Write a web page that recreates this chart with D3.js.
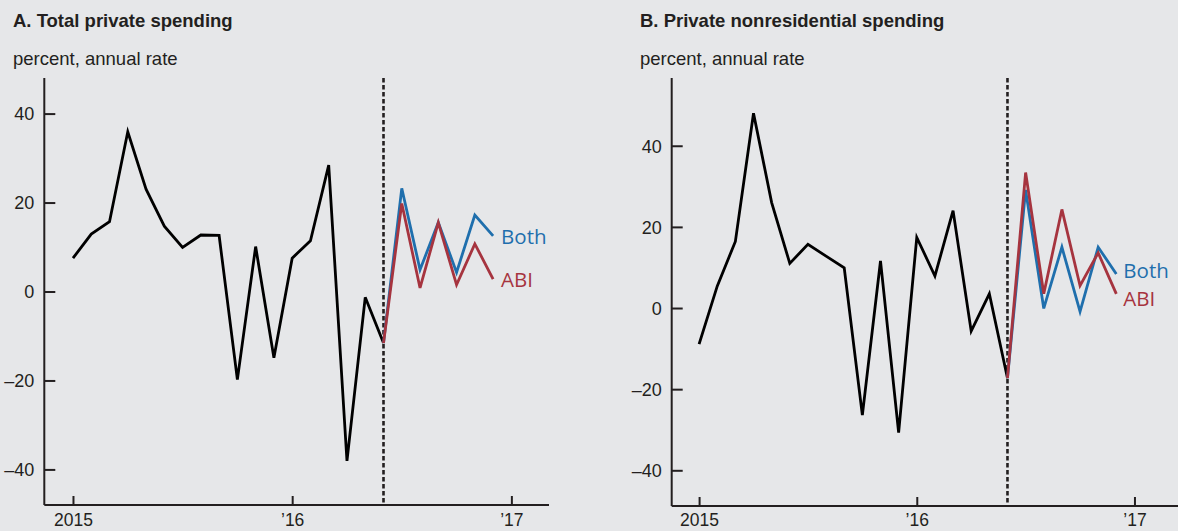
<!DOCTYPE html>
<html>
<head>
<meta charset="utf-8">
<script src="https://cdn.jsdelivr.net/npm/d3@7"></script>
<style>
  html, body { margin: 0; padding: 0; background: #e6e7e9; }
  svg { display: block; }
  text { font-family: "Liberation Sans", Arial, sans-serif; fill: #231f20; }
</style>
</head>
<body>
<svg id="chart" width="1178" height="531"></svg>
<script>
// ---- data (month index 0 = Jan 2015) ----
const histMonths = d3.range(0, 18);          // Jan 2015 .. Jun 2016
const fcstMonths = d3.range(17, 24);         // Jun 2016 .. Dec 2016
const xTickValues = [0, 12, 24];
const xTickLabels = ["2015", "\u201916", "\u201917"];

const totalHist = [7.5, 12.9, 15.7, 35.9, 23.0, 14.7, 9.9, 12.7, 12.6, -19.8, 10.1, -14.9, 7.5, 11.4, 28.4, -38.1, -1.3, -11.6];
const totalBoth = [-11.6, 23.2, 4.9, 15.5, 4.3, 17.2, 12.5];
const totalABI  = [-11.6, 19.8, 0.8, 15.5, 1.5, 10.7, 2.8];
const totalYTicks = [-40, -20, 0, 20, 40];

const nonresHist = [-8.9, 5.4, 16.4, 48.0, 26.0, 11.0, 15.7, 12.8, 9.9, -26.4, 11.6, -30.7, 17.4, 7.9, 24.0, -5.7, 3.5, -17.3];
const nonresBoth = [-17.3, 29.1, -0.1, 15.0, -0.9, 15.0, 8.4];
const nonresABI  = [-17.3, 33.4, 3.5, 24.3, 5.5, 13.6, 3.5];
const nonresYTicks = [-40, -20, 0, 20, 40];

const cutMonth = 17;
const seriesNames = ["Both", "ABI"];
const colors = { hist: "#000000", Both: "#1f6fad", ABI: "#a6343f", axis: "#231f20" };

const svg = d3.select("#chart");

function panel(cfg) {
  const g = svg.append("g");
  const x = d3.scaleLinear().domain(cfg.xDomain).range([cfg.left, cfg.right]);
  const y = d3.scaleLinear().domain(cfg.yDomain).range([cfg.bottom, cfg.top]);

  // titles
  g.append("text").attr("x", cfg.titleX).attr("y", 27)
    .style("font-size", "18.5px").style("font-weight", "bold").text(cfg.title);
  g.append("text").attr("x", cfg.titleX).attr("y", 65)
    .style("font-size", "18.5px").text("percent, annual rate");

  // y axis
  const yAxis = d3.axisRight(y).tickValues(cfg.yTicks).tickSize(11)
    .tickFormat(d => d < 0 ? "\u2013" + Math.abs(d) : d);
  const ya = g.append("g").attr("transform", `translate(${cfg.left},0)`).call(yAxis);
  ya.select(".domain").attr("stroke", colors.axis).attr("stroke-width", 2)
    .attr("d", `M0,${cfg.top}V${cfg.bottom}`);
  ya.selectAll(".tick line").attr("stroke", colors.axis).attr("stroke-width", 2);
  ya.selectAll(".tick text").attr("x", -10).attr("text-anchor", "end")
    .attr("dy", "0.35em").style("font-size", "18px").attr("fill", colors.axis);

  // x axis
  const xAxis = d3.axisTop(x).tickValues(xTickValues).tickSize(9)
    .tickFormat((d, i) => xTickLabels[i]);
  const xa = g.append("g").attr("transform", `translate(0,${cfg.bottom})`).call(xAxis);
  xa.select(".domain").attr("stroke", colors.axis).attr("stroke-width", 2)
    .attr("d", `M${cfg.left},0H${cfg.right}`);
  xa.selectAll(".tick line").attr("stroke", colors.axis).attr("stroke-width", 2);
  xa.selectAll(".tick text").attr("y", 526 - cfg.bottom).attr("dy", 0).style("font-size", "17.5px")
    .attr("fill", colors.axis);

  // dashed forecast divider
  g.append("line")
    .attr("x1", x(cutMonth)).attr("x2", x(cutMonth))
    .attr("y1", cfg.top).attr("y2", cfg.bottom)
    .attr("stroke", colors.axis).attr("stroke-width", 2.6)
    .attr("stroke-dasharray", "4.5,2.5");

  const line = d3.line().x(d => x(d[0])).y(d => y(d[1]));

  g.append("path").datum(histMonths.map((m, i) => [m, cfg.hist[i]]))
    .attr("d", line).attr("fill", "none").attr("stroke", colors.hist)
    .attr("stroke-width", 2.8).attr("stroke-linejoin", "miter");

  const fc = { Both: cfg.both, ABI: cfg.abi };
  seriesNames.forEach(name => {
    const pts = fcstMonths.map((m, i) => [m, fc[name][i]]);
    g.append("path").datum(pts).attr("d", line).attr("fill", "none")
      .attr("stroke", colors[name]).attr("stroke-width", 2.8).attr("stroke-linejoin", "miter");
  });

  // series labels
  seriesNames.forEach(name => {
    g.append("text")
      .attr("x", x(fcstMonths[fcstMonths.length - 1]) + cfg.labelDx)
      .attr("y", y(cfg.labelY[name]))
      .attr("dy", "0.35em")
      .style("font-family", "'Open Sans', sans-serif")
      .style("font-size", "20.5px")
      .style("fill", colors[name])
      .text(name);
  });
}

panel({
  title: "A. Total private spending", titleX: 13,
  left: 44.3, right: 549, top: 78, bottom: 505,
  xDomain: [-1.57, 26.06], yDomain: [-48, 48],
  yTicks: totalYTicks, hist: totalHist, both: totalBoth, abi: totalABI,
  labelDx: 8, labelY: { Both: 12.4, ABI: 2.6 }
});

panel({
  title: "B. Private nonresidential spending", titleX: 640,
  left: 671.7, right: 1178, top: 78, bottom: 506,
  xDomain: [-1.51, 26.4], yDomain: [-48.8, 56.7],
  yTicks: nonresYTicks, hist: nonresHist, both: nonresBoth, abi: nonresABI,
  labelDx: 7, labelY: { Both: 9.2, ABI: 2.3 }
});
</script>
</body>
</html>
